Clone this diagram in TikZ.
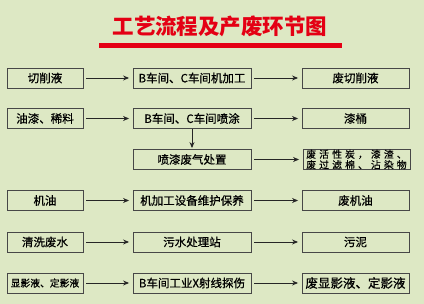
\documentclass[tikz,border=0pt]{standalone}
\usepackage{fontspec}
\newfontfamily\cjk[FakeBold=0.6]{Noto Sans CJK SC}
\newfontfamily\cjksp[LetterSpace=32,FakeBold=0.4]{Noto Sans CJK SC}
\newfontfamily\cjktitle{Noto Sans CJK SC}
\usetikzlibrary{arrows.meta}
\definecolor{bgc}{RGB}{221,232,196}
\definecolor{tred}{RGB}{228,0,20}
\tikzset{
  box/.style={draw=black!72, line width=0.9pt, minimum height=20pt, inner sep=0pt, font=\cjk\fontsize{11.5}{12}\selectfont, text=black},
  lbox/.style={box, minimum width=76pt},
  mbox/.style={box, minimum width=118pt},
  rbox/.style={box, minimum width=107pt},
  flow/.style={draw=black!85, line width=0.9pt, -{Stealth[length=6pt,width=5pt]}, shorten <=3pt, shorten >=3.5pt}
}
\begin{document}
\begin{tikzpicture}[x=1pt,y=-1pt]
\fill[bgc] (0,0) rectangle (424,304);
\useasboundingbox (0,0) rectangle (424,304);
\node[font=\cjktitle\bfseries\fontsize{21.5}{22}\selectfont, text=tred] (title) at (220,26) {工艺流程及产废环节图};
\fill[tred] (99,43.5) rectangle (342,48);
% row 1
\node[lbox] (a1) at (45,78) {切削液};
\node[mbox] (b1) at (192,78) {B车间、C车间机加工};
\node[rbox] (c1) at (355.5,78) {废切削液};
% row 2
\node[lbox] (a2) at (45,118.5) {油漆、稀料};
\node[mbox] (b2) at (192,118.5) {B车间、C车间喷涂};
\node[rbox] (c2) at (355.5,118.5) {漆桶};
% row 3
\node[mbox] (b3) at (192,159.5) {喷漆废气处置};
\node[rbox, font=\cjksp\fontsize{9.8}{10.5}\selectfont, align=center] (c3) at (356.5,159.5) {废活性炭，漆渣、\\[0pt]废过滤棉、沾染物};
% row 4
\node[lbox] (a4) at (45,200.5) {机油};
\node[mbox] (b4) at (192,200.5) {机加工设备维护保养};
\node[rbox] (c4) at (355.5,200.5) {废机油};
% row 5
\node[lbox] (a5) at (45,242) {清洗废水};
\node[mbox] (b5) at (192,242) {污水处理站};
\node[rbox] (c5) at (355.5,242) {污泥};
% row 6
\node[lbox, font=\cjk\fontsize{9.8}{11}\selectfont] (a6) at (45,283) {显影液、定影液};
\node[mbox] (b6) at (192,283) {B车间工业X射线探伤};
\node[rbox, font=\cjk\fontsize{12.5}{13}\selectfont] (c6) at (355.5,283) {废显影液、定影液};
% arrows
\foreach \r in {1,2,4,5,6}{
  \draw[flow] (a\r.east) -- (b\r.west);
  \draw[flow] (b\r.east) -- (c\r.west);
}
\draw[flow] (b3.east) -- (c3.west);
\draw[flow, shorten <=0pt, shorten >=1pt] (b2.south) -- (b3.north);
\end{tikzpicture}
\end{document}
